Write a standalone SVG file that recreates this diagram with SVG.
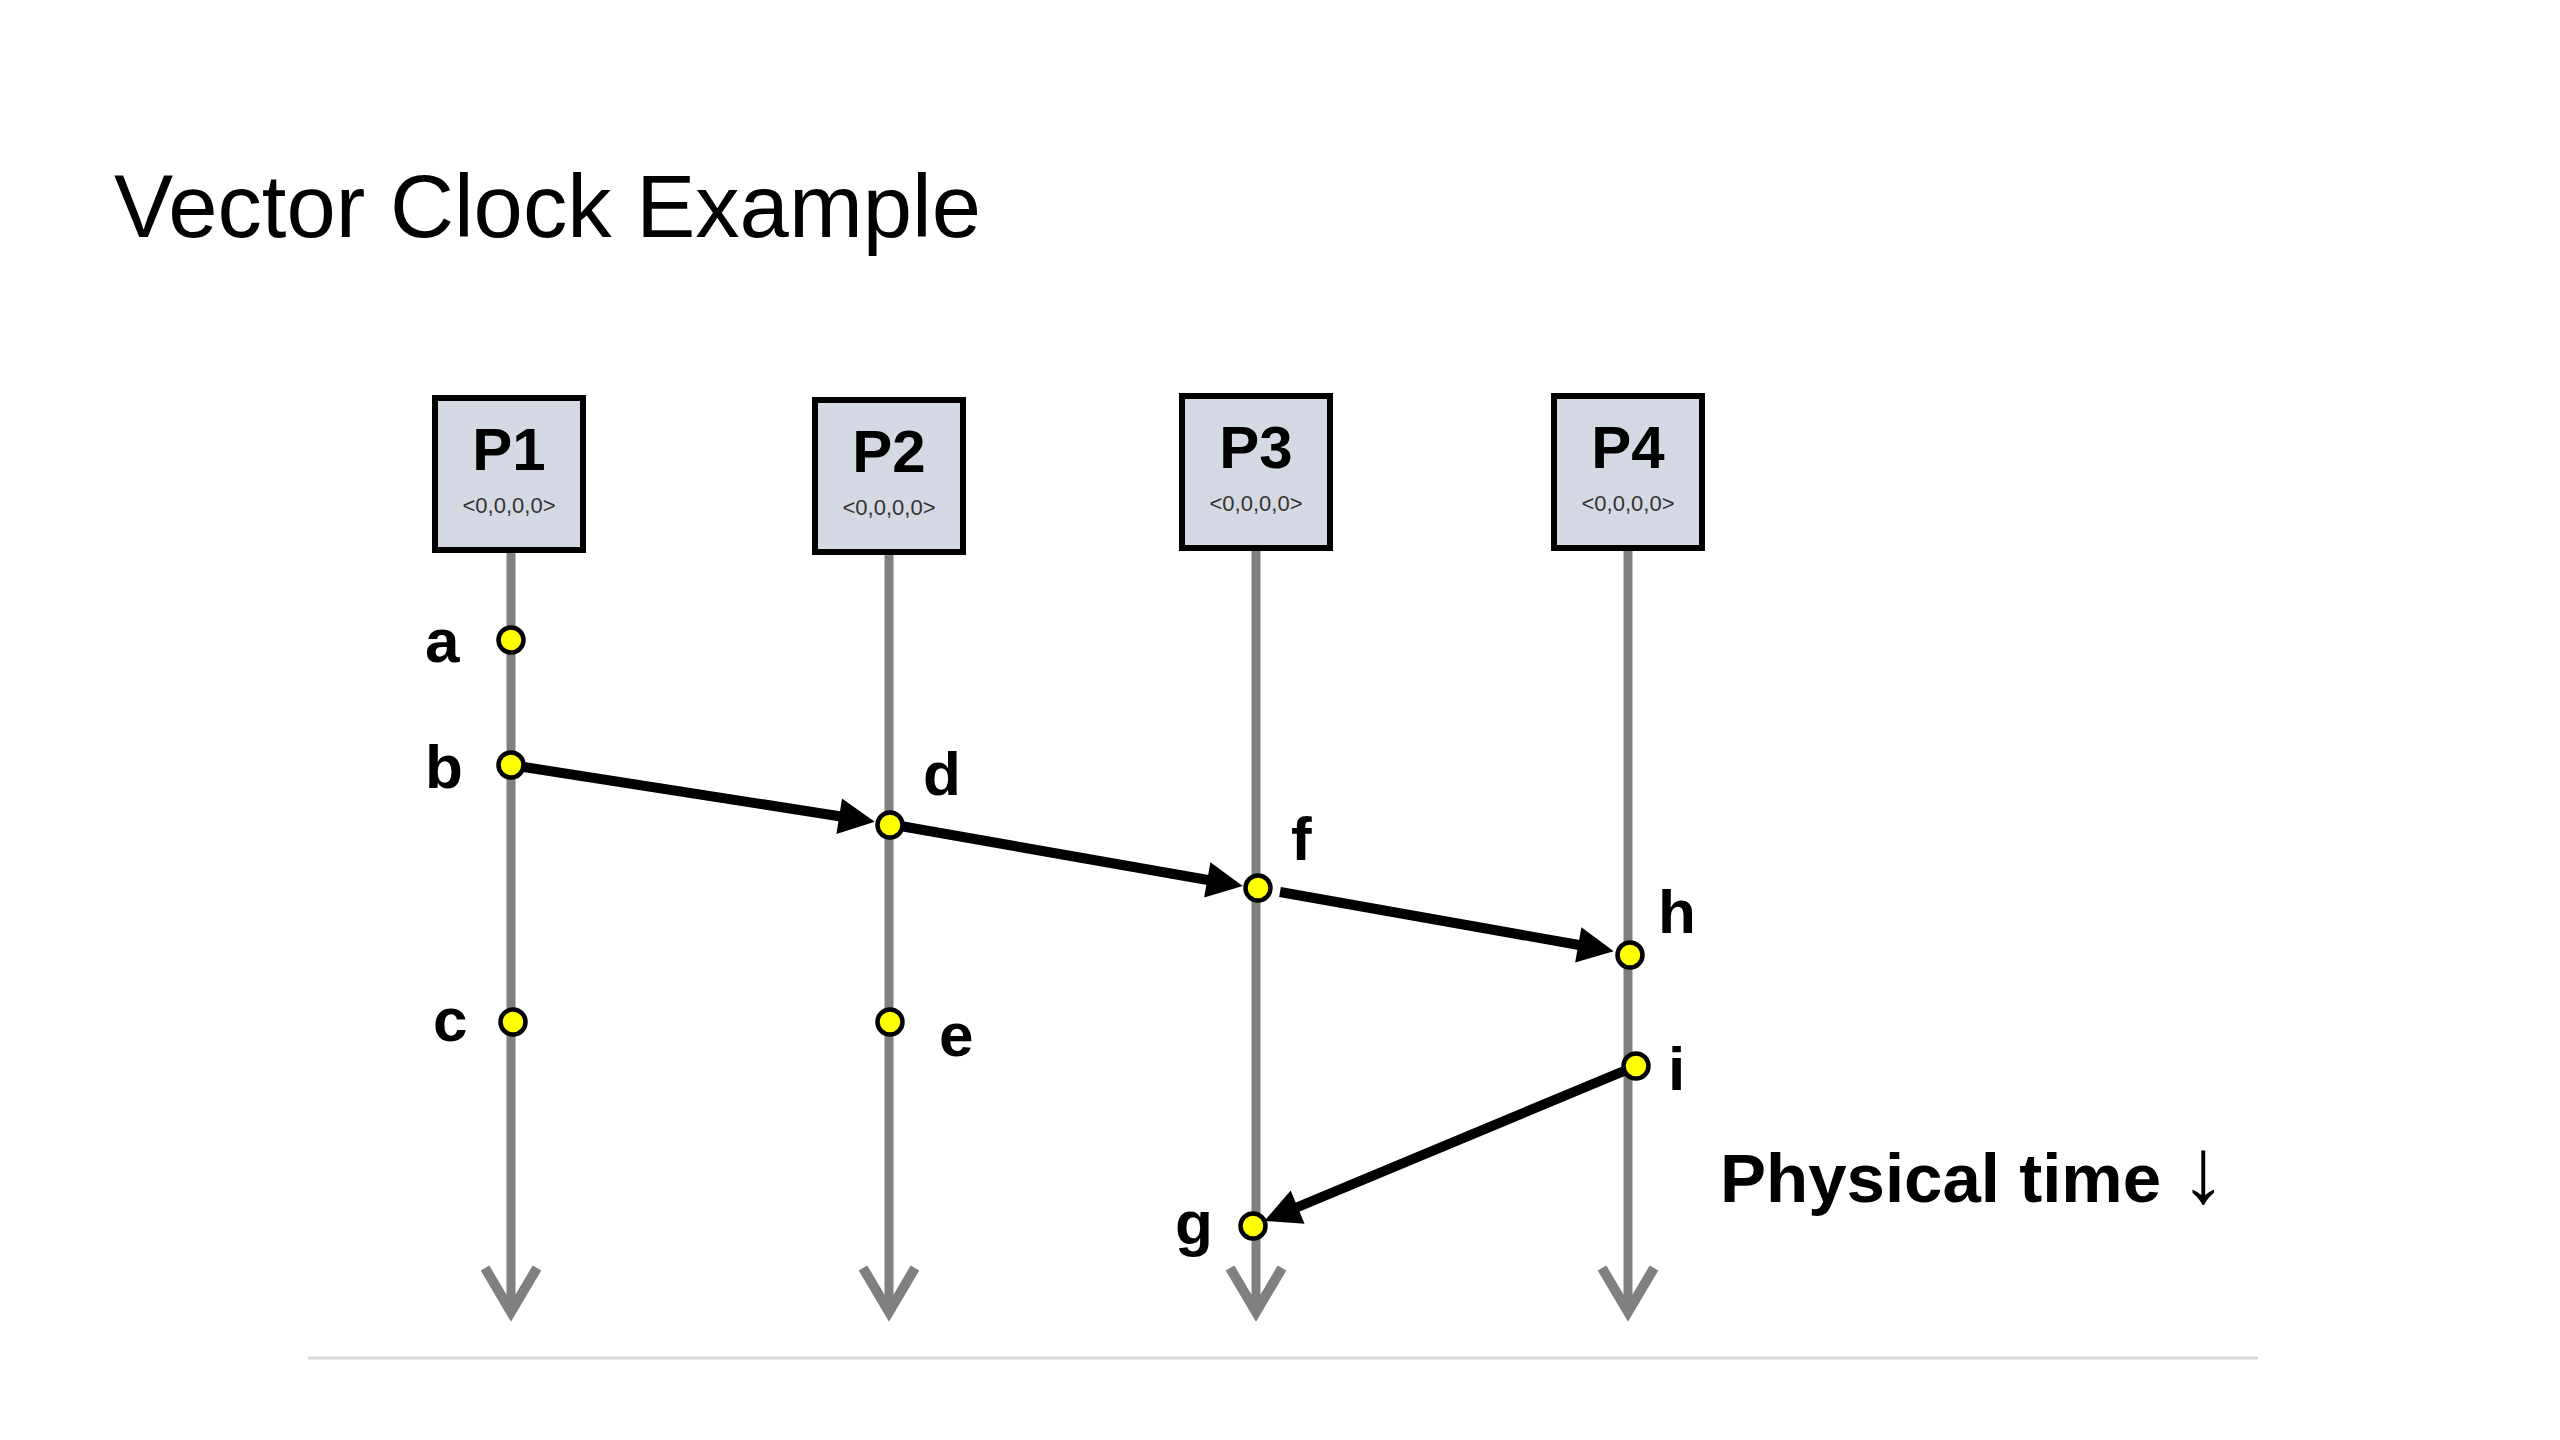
<svg xmlns="http://www.w3.org/2000/svg" width="2560" height="1440" viewBox="0 0 2560 1440">
  <style>
    .title { font-family: "Liberation Sans", Arial, sans-serif; font-size: 89px; fill: #000; }
    .pbox { fill: #d5d9e3; stroke: #000; stroke-width: 6; }
    .pname { font-family: "Liberation Sans", Arial, sans-serif; font-size: 60px; font-weight: bold; fill: #000; text-anchor: middle; }
    .pvec { font-family: "Liberation Sans", Arial, sans-serif; font-size: 22px; fill: #333; text-anchor: middle; }
    .life { stroke: #808080; stroke-width: 9; fill: none; marker-end: url(#chev); }
    .msg { stroke: #000; stroke-width: 10; fill: none; marker-end: url(#tri); }
    .ev { fill: #ffff00; stroke: #000; stroke-width: 4.5; }
    .lbl { font-family: "Liberation Sans", Arial, sans-serif; font-size: 62px; font-weight: bold; fill: #000; }
    .note { font-family: "Liberation Sans", Arial, sans-serif; font-size: 69px; font-weight: bold; fill: #000; }
    .rule { stroke: #d9d9d9; stroke-width: 3; }
  </style>
  <defs>
    <marker id="chev" markerUnits="userSpaceOnUse" viewBox="-60 -40 80 80" refX="0" refY="0" markerWidth="80" markerHeight="80" orient="auto" overflow="visible">
      <path d="M-44,-26 L0,0 L-44,26" fill="none" stroke="#808080" stroke-width="10" stroke-linejoin="miter"/>
    </marker>
    <marker id="tri" markerUnits="userSpaceOnUse" viewBox="-20 -20 40 40" refX="0" refY="0" markerWidth="40" markerHeight="40" orient="auto" overflow="visible">
      <path d="M-18,-18 L18,0 L-18,18 Z" fill="#000"/>
    </marker>
  </defs>
  <rect x="0" y="0" width="2560" height="1440" fill="#ffffff"/>

  <text class="title" x="114" y="237" textLength="867" lengthAdjust="spacingAndGlyphs">Vector Clock Example</text>
  <line class="rule" x1="308" y1="1358" x2="2258" y2="1358"/>

  <g id="lifelines">
    <path class="life" d="M511,553 L511,1312"/>
    <path class="life" d="M889,555 L889,1312"/>
    <path class="life" d="M1256,551 L1256,1312"/>
    <path class="life" d="M1628,551 L1628,1312"/>
  </g>

  <g id="connectors">
    <path id="msg-b-d" class="msg" d="M511,765 L857,819"/>
    <path id="msg-d-f" class="msg" d="M889,824 L1225,883"/>
    <path id="msg-f-h" class="msg" d="M1280,892 L1596,948"/>
    <path id="msg-i-g" class="msg" d="M1636,1066 L1281,1214"/>
  </g>

  <g id="P1">
    <rect class="pbox" x="435" y="398" width="148" height="152"/>
    <text class="pname" x="509" y="470">P1</text>
    <text class="pvec" x="509" y="513">&lt;0,0,0,0&gt;</text>
  </g>
  <g id="P2">
    <rect class="pbox" x="815" y="400" width="148" height="152"/>
    <text class="pname" x="889" y="472">P2</text>
    <text class="pvec" x="889" y="515">&lt;0,0,0,0&gt;</text>
  </g>
  <g id="P3">
    <rect class="pbox" x="1182" y="396" width="148" height="152"/>
    <text class="pname" x="1256" y="468">P3</text>
    <text class="pvec" x="1256" y="511">&lt;0,0,0,0&gt;</text>
  </g>
  <g id="P4">
    <rect class="pbox" x="1554" y="396" width="148" height="152"/>
    <text class="pname" x="1628" y="468">P4</text>
    <text class="pvec" x="1628" y="511">&lt;0,0,0,0&gt;</text>
  </g>

  <g id="event-a">
    <circle class="ev" cx="511" cy="640" r="12.5"/>
    <text class="lbl" x="425" y="662">a</text>
  </g>
  <g id="event-b">
    <circle class="ev" cx="511" cy="765" r="12.5"/>
    <text class="lbl" x="425" y="788">b</text>
  </g>
  <g id="event-c">
    <circle class="ev" cx="513" cy="1022" r="12.5"/>
    <text class="lbl" x="433" y="1041">c</text>
  </g>
  <g id="event-d">
    <circle class="ev" cx="890" cy="825" r="12.5"/>
    <text class="lbl" x="923" y="795">d</text>
  </g>
  <g id="event-e">
    <circle class="ev" cx="890" cy="1022" r="12.5"/>
    <text class="lbl" x="939" y="1056">e</text>
  </g>
  <g id="event-f">
    <circle class="ev" cx="1258" cy="888" r="12.5"/>
    <text class="lbl" x="1291" y="860">f</text>
  </g>
  <g id="event-g">
    <circle class="ev" cx="1253" cy="1226" r="12.5"/>
    <text class="lbl" x="1175" y="1244">g</text>
  </g>
  <g id="event-h">
    <circle class="ev" cx="1630" cy="955" r="12.5"/>
    <text class="lbl" x="1658" y="933">h</text>
  </g>
  <g id="event-i">
    <circle class="ev" cx="1636" cy="1066" r="12.5"/>
    <text class="lbl" x="1668" y="1090">i</text>
  </g>

  <text class="note" x="1720" y="1202">Physical time <tspan font-weight="normal" font-size="92px">↓</tspan></text>
</svg>
